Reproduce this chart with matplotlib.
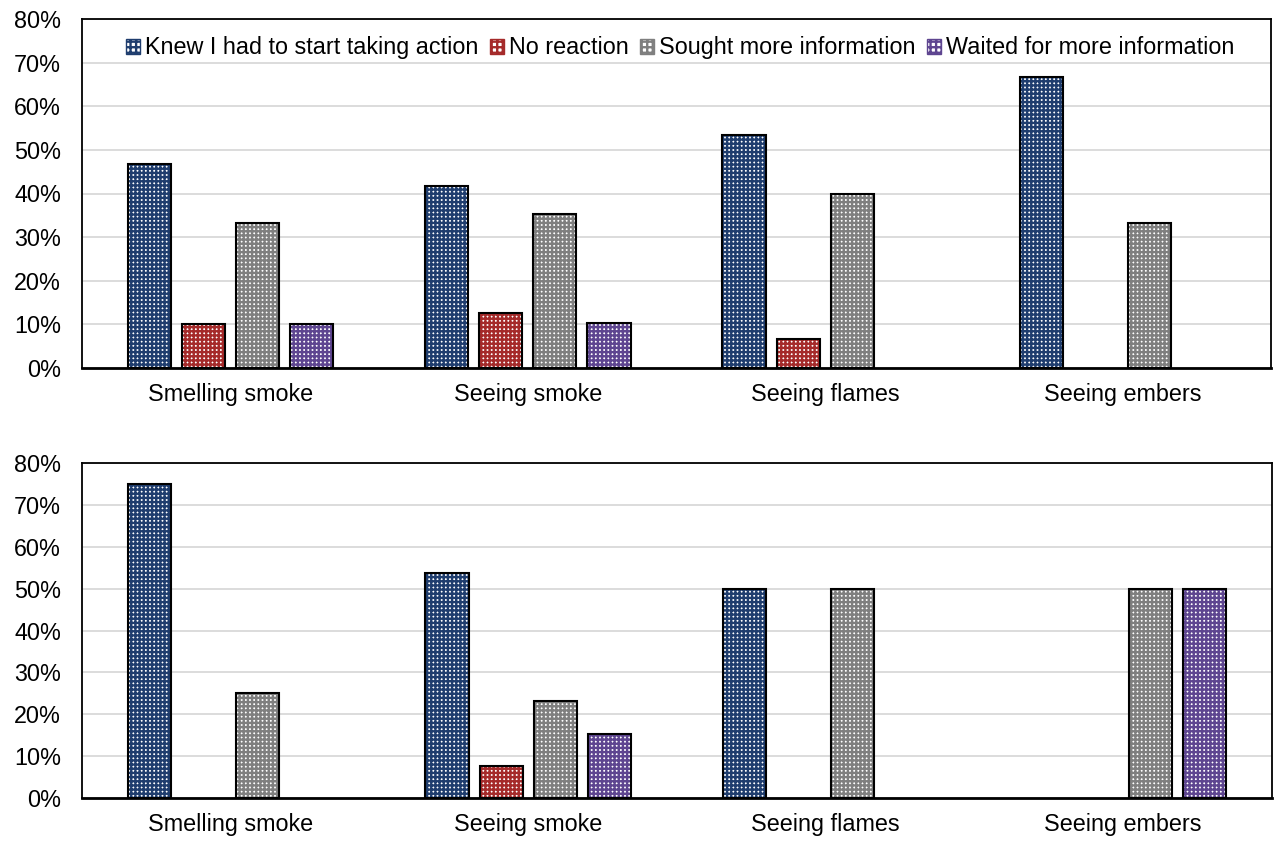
import matplotlib
matplotlib.use("Agg")
import matplotlib.pyplot as plt
from matplotlib.patches import Patch
from matplotlib.ticker import PercentFormatter
import numpy as np

plt.rcParams["font.family"] = ["Liberation Sans", "DejaVu Sans"]
plt.rcParams["hatch.linewidth"] = 1.7

categories = ["Smelling smoke", "Seeing smoke", "Seeing flames", "Seeing embers"]
series_names = ["Knew I had to start taking action", "No reaction",
                "Sought more information", "Waited for more information"]
series_colors = ["#1f3d6e", "#a52a2a", "#7f7f7f", "#5e4590"]

# Percent of respondents per cue, first group
top_knew = [46.7, 41.7, 53.3, 66.7]
top_no_reaction = [10.0, 12.5, 6.7, 0.0]
top_sought = [33.3, 35.4, 40.0, 33.3]
top_waited = [10.0, 10.4, 0.0, 0.0]

# Percent of respondents per cue, second group
bottom_knew = [75.0, 53.8, 50.0, 0.0]
bottom_no_reaction = [0.0, 7.7, 0.0, 0.0]
bottom_sought = [25.0, 23.1, 50.0, 50.0]
bottom_waited = [0.0, 15.4, 0.0, 50.0]

y_ticks = [0, 10, 20, 30, 40, 50, 60, 70, 80]

FS = 16.8
HATCH = "++++"
BAR_W = 0.145
STEP = 0.182


def draw_panel(ax, series):
    x = np.arange(len(categories))
    for i, (vals, color) in enumerate(zip(series, series_colors)):
        vals = np.asarray(vals, dtype=float)
        keep = vals > 0
        pos = x[keep] + (i - 1.5) * STEP
        # patterned fill: white base with a dense grid in the series colour
        ax.bar(pos, vals[keep], width=BAR_W, facecolor="white",
               edgecolor=color, hatch=HATCH, linewidth=0, zorder=3)
        # outline
        ax.bar(pos, vals[keep], width=BAR_W, fill=False,
               edgecolor="black", linewidth=1.5, zorder=4)
    ax.set_xlim(-0.5, len(categories) - 0.5)
    ax.set_ylim(0, 80)
    ax.set_yticks(y_ticks)
    ax.yaxis.set_major_formatter(PercentFormatter(decimals=0))
    ax.set_xticks(x)
    ax.set_xticklabels(categories)
    ax.tick_params(axis="both", length=0, labelsize=FS, colors="black")
    ax.tick_params(axis="y", pad=15)
    ax.tick_params(axis="x", pad=11)
    ax.grid(axis="y", color="#d9d9d9", linewidth=1.3, zorder=0)
    ax.set_axisbelow(True)
    for side in ["top", "left", "right"]:
        ax.spines[side].set_color("black")
        ax.spines[side].set_linewidth(1.3)
    ax.spines["bottom"].set_color("black")
    ax.spines["bottom"].set_linewidth(2.0)
    ax.spines["bottom"].set_zorder(5)


fig = plt.figure(figsize=(12.78, 8.41), dpi=100)
ax_top = fig.add_axes([82 / 1278, 1 - 368 / 841, 1189 / 1278, 349 / 841])
ax_bot = fig.add_axes([82 / 1278, 1 - 798 / 841, 1190 / 1278, 335 / 841])

draw_panel(ax_top, [top_knew, top_no_reaction, top_sought, top_waited])
draw_panel(ax_bot, [bottom_knew, bottom_no_reaction, bottom_sought, bottom_waited])

handles = [Patch(facecolor="white", edgecolor=c, hatch="+++", linewidth=1.0)
           for c in series_colors]
ax_top.legend(handles, series_names, loc="center", bbox_to_anchor=(0.503, 0.917),
              ncol=4, frameon=False, fontsize=FS, handlelength=0.6,
              handleheight=0.6, handletextpad=0.2, columnspacing=0.5,
              borderaxespad=0)

fig.savefig("out.png", dpi=100)
